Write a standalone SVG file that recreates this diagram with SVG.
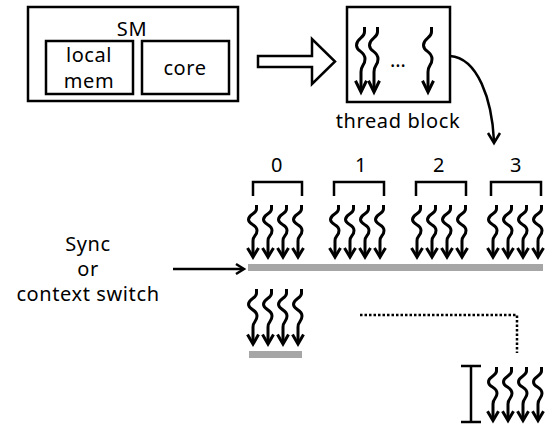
<svg xmlns="http://www.w3.org/2000/svg" xmlns:xlink="http://www.w3.org/1999/xlink" width="546" height="425" viewBox="0 0 546 425">
<style>
.ln{fill:none;stroke:#000;stroke-width:2.5}
.box{fill:#fff;stroke:#000;stroke-width:2.5}
.t{font-family:"Noto Sans","Open Sans","DejaVu Sans",sans-serif;font-size:20px;fill:#000;text-anchor:middle;letter-spacing:0.6px}
.bar{fill:#a6a6a6}
.dot{fill:none;stroke:#000;stroke-width:2.5;stroke-dasharray:2.5 2}
.sq{fill:none;stroke:#000;stroke-width:3}
</style>
<defs>
<g id="thr">
<path class="sq" d="M3.5,0 V4 C3.5,9 -4.5,9 -4.5,14.5 C-4.5,20 4,19 4,25.5 C4,31 0,30 0,36 V51" vector-effect="non-scaling-stroke"/>
<path class="sq" d="M-5.5,43 L0,52 L5.5,43" vector-effect="non-scaling-stroke"/>
</g>
<g id="warp">
<use xlink:href="#thr" x="1"/>
<use xlink:href="#thr" x="16"/>
<use xlink:href="#thr" x="31"/>
<use xlink:href="#thr" x="46"/>
</g>
</defs>
<rect width="546" height="425" fill="#fff"/>

<g id="sm">
<rect class="box" x="28" y="7" width="210" height="94"/>
<text class="t" x="132" y="36">SM</text>
</g>
<g id="localmem">
<rect class="box" x="46" y="41" width="87" height="53"/>
<text class="t" x="89" y="62">local</text>
<text class="t" x="89" y="88">mem</text>
</g>
<g id="core">
<rect class="box" x="142" y="41" width="87" height="53"/>
<text class="t" x="185" y="75">core</text>
</g>

<g id="threadblock">
<rect class="box" x="347" y="7" width="103" height="95"/>
<use xlink:href="#thr" transform="translate(361,27) scale(1,1.25)"/>
<use xlink:href="#thr" transform="translate(374,27) scale(1,1.25)"/>
<use xlink:href="#thr" transform="translate(428,27) scale(1,1.25)"/>
<text class="t" x="398" y="67" style="letter-spacing:0">…</text>
<text class="t" x="398" y="128">thread block</text>
</g>

<g id="warp0">
<text class="t" x="277" y="172">0</text>
<path class="ln" d="M253,196 V182 H302 V196"/>
<use xlink:href="#warp" x="252" y="205"/>
</g>
<g id="warp1">
<text class="t" x="361" y="172">1</text>
<path class="ln" d="M334,196 V182 H384 V196"/>
<use xlink:href="#warp" x="334" y="205"/>
</g>
<g id="warp2">
<text class="t" x="439" y="172">2</text>
<path class="ln" d="M416,196 V182 H466 V196"/>
<use xlink:href="#warp" x="416" y="205"/>
</g>
<g id="warp3">
<text class="t" x="516" y="172">3</text>
<path class="ln" d="M491,196 V182 H541 V196"/>
<use xlink:href="#warp" x="492" y="205"/>
</g>

<g id="barrier">
<rect class="bar" x="248" y="264" width="295" height="7"/>
</g>

<g id="sync">
<text class="t" x="88" y="251">Sync</text>
<text class="t" x="88" y="276">or</text>
<text class="t" x="88" y="301">context switch</text>
</g>

<g id="warpnext">
<use xlink:href="#warp" transform="translate(252,289) scale(1,1.06)"/>
<rect class="bar" x="249" y="351" width="53" height="7"/>
</g>

<g id="warplast">
<path class="ln" d="M461,366 H481 M471,366 V422 M461,422 H481"/>
<use xlink:href="#warp" transform="translate(492,367) scale(1,1.03)"/>
</g>

<g id="connectors">
<polygon class="box" points="258,56 312,56 312,39 335,61.5 312,84 312,67 258,67"/>
<path class="ln" d="M450,56 C478,58 492,100 494,141"/>
<path class="ln" d="M488,133 L494,143 L500,133"/>
<path class="ln" d="M173,269 H243"/>
<path class="ln" d="M236,264 L244,269 L236,274"/>
<path class="dot" d="M360,315 H517 V353"/>
</g>
</svg>
